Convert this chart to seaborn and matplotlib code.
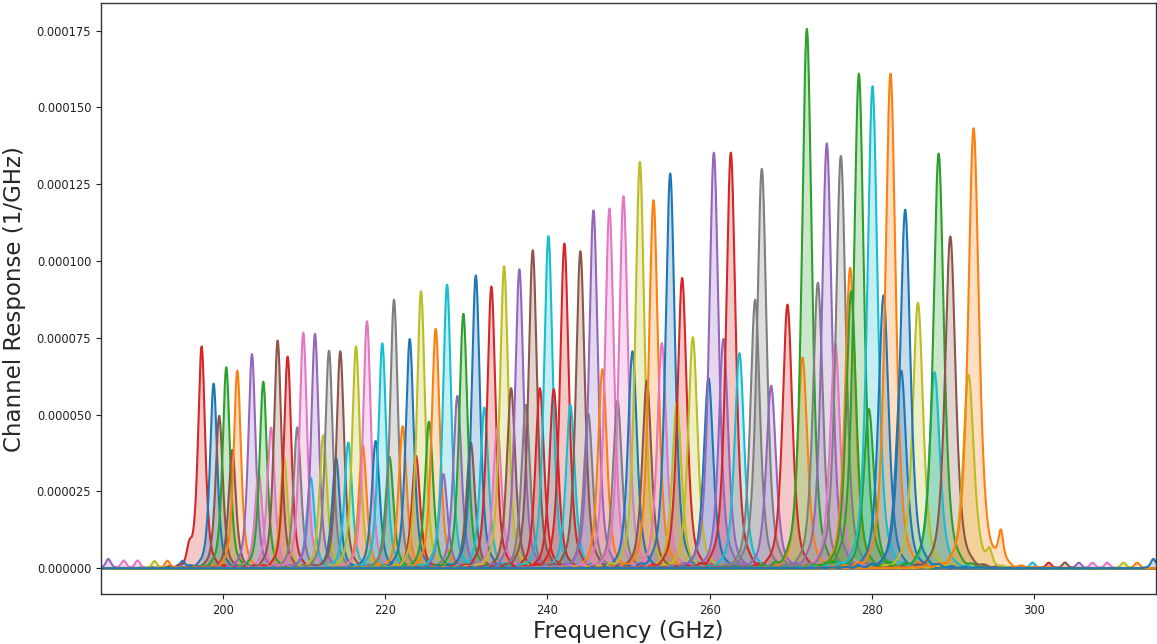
import numpy as np
import pandas as pd
import matplotlib
matplotlib.use("Agg")
import matplotlib.pyplot as plt
from matplotlib.ticker import FormatStrFormatter
import seaborn as sns

# Filter-bank channels, listed by centre frequency
centre_ghz = [
    197.40, 198.88, 199.57, 200.44, 201.18, 201.80, 203.60, 204.43, 205.00, 205.95,
    206.77, 207.55, 208.00, 209.19, 209.93, 210.84, 211.37, 212.40, 213.10, 213.96,
    214.49, 215.48, 216.43, 217.25, 217.78, 218.85, 219.67, 220.55, 221.11, 222.18,
    223.05, 223.82, 224.44, 225.43, 226.25, 227.19, 227.65, 228.92, 229.66, 230.57,
    231.19, 232.25, 233.11, 233.85, 234.68, 235.54, 236.56, 237.35, 238.21, 239.08,
    240.14, 240.80, 242.11, 242.85, 244.08, 245.05, 245.69, 246.80, 247.66, 248.65,
    249.39, 250.50, 251.41, 252.27, 253.09, 254.12, 255.15, 255.97, 256.62, 257.94,
    259.87, 260.53, 261.71, 262.62, 263.68, 265.62, 266.44, 267.59, 269.60, 271.45,
    271.99, 273.35, 274.45, 275.48, 276.18, 277.33, 277.46, 278.40, 279.63, 280.08,
    281.44, 282.30, 283.62, 284.11, 285.68, 287.73, 288.23, 289.67, 291.92, 292.54,
]

# Peak response of each channel, in units of 1e-5 / GHz
peak_e5 = [
    7.21, 6.01, 4.96, 6.54, 3.85, 6.43, 6.97, 3.11, 6.07, 4.58,
    7.41, 3.60, 6.89, 4.58, 7.67, 2.95, 7.63, 4.33, 7.08, 3.60,
    7.06, 4.09, 7.22, 4.01, 8.04, 4.14, 7.32, 3.62, 8.74, 4.62,
    7.46, 3.66, 9.02, 4.77, 7.79, 3.06, 9.23, 5.61, 8.28, 4.09,
    9.53, 5.23, 9.17, 4.58, 9.83, 5.86, 9.73, 5.32, 10.35, 5.86,
    10.81, 5.83, 10.57, 5.31, 10.32, 5.02, 11.65, 6.48, 11.71, 5.45,
    12.11, 7.06, 13.23, 6.10, 11.98, 7.33, 12.85, 5.40, 9.45, 7.52,
    6.19, 13.53, 7.46, 13.53, 7.00, 8.74, 13.00, 5.94, 8.58, 6.86,
    17.56, 9.29, 13.83, 7.33, 13.42, 9.78, 9.02, 16.10, 5.18, 15.69,
    8.88, 16.10, 6.43, 11.67, 8.64, 6.38, 13.50, 10.80, 6.30, 14.32,
]

# Position of each channel in the plotting order's colour cycle (tab10 slot)
cycle_slot = [
    3, 0, 5, 2, 5, 1, 4, 6, 2, 6,
    5, 8, 3, 7, 6, 9, 4, 8, 7, 0,
    5, 9, 8, 1, 6, 0, 9, 2, 7, 1,
    0, 3, 8, 2, 1, 4, 9, 4, 2, 5,
    0, 9, 3, 6, 8, 5, 4, 7, 5, 3,
    9, 3, 3, 9, 5, 7, 4, 1, 6, 7,
    6, 0, 8, 5, 1, 6, 0, 8, 3, 8,
    0, 4, 4, 3, 9, 7, 7, 4, 3, 1,
    2, 7, 4, 6, 7, 1, 2, 2, 2, 9,
    0, 1, 0, 0, 8, 9, 2, 5, 8, 1,
]

# Spurious responses away from the main passband: owning channel, centre, height (1e-5 / GHz)
spur_channel = [0, 6, 7, 9, 11, 5, 1, 99, 98, 95, 78, 97, 82, 83, 65, 98, 91, 93]
spur_centre = [195.90, 185.90, 187.80, 189.50, 191.60, 193.20, 195.10, 295.90, 294.50,
               299.80, 301.80, 303.80, 305.50, 307.20, 309.00, 311.00, 312.70, 314.70]
spur_e5 = [0.54, 0.30, 0.25, 0.25, 0.23, 0.23, 0.20, 1.08, 0.45,
           0.18, 0.18, 0.18, 0.18, 0.18, 0.18, 0.18, 0.18, 0.30]

QUALITY = 190.0
freq = np.arange(185.0, 315.0001, 0.02)


def passband(f, f0, height, fwhm):
    # squared-Lorentzian filter profile with a little sidelobe ringing
    gamma = fwhm / 1.2872
    x = (f - f0) / gamma
    main = height / (1.0 + x ** 2) ** 2
    ring = 0.02 * height * np.sin(np.pi * (f - f0) / (1.1 * fwhm)) ** 2
    ring *= np.exp(-np.abs(f - f0) / 4.0) * (1.0 - np.exp(-(x / 2.5) ** 2))
    return main + ring


def bump(f, f0, height, fwhm):
    gamma = fwhm / 1.2872
    return height / (1.0 + ((f - f0) / gamma) ** 2) ** 2


curves = []
for i, (f0, h) in enumerate(zip(centre_ghz, peak_e5)):
    resp = passband(freq, f0, h * 1e-5, f0 / QUALITY)
    for ch, sc, sh in zip(spur_channel, spur_centre, spur_e5):
        if ch == i:
            resp = resp + bump(freq, sc, sh * 1e-5, 0.75)
    curves.append(resp)

frame = pd.concat(
    [pd.DataFrame({"freq": freq, "resp": r, "channel": f"ch{i:03d}"})
     for i, r in enumerate(curves)],
    ignore_index=True,
)

tab10 = sns.color_palette("tab10", 10)
colour_of = {f"ch{i:03d}": tab10[s] for i, s in enumerate(cycle_slot)}
# channels drawn in frequency order, with one blue trace drawn last along the zero line
labels = [k for k in colour_of if k != "ch093"] + ["ch093"]

sns.set_style("ticks")
plt.rcParams["font.family"] = ["DejaVu Sans"]

fig = plt.figure(figsize=(11.57, 6.44), dpi=100)
ax = fig.add_axes([0.0873, 0.0772, 0.9117, 0.9181])

sns.lineplot(data=frame, x="freq", y="resp", hue="channel", hue_order=labels,
             palette=colour_of, estimator=None, legend=False, linewidth=1.5, ax=ax)
for i, r in enumerate(curves):
    ax.fill_between(freq, r, color=tab10[cycle_slot[i]], alpha=0.25, linewidth=0)

ax.set_xlim(185.0, 315.0)
ax.set_ylim(-8.5e-6, 1.84e-4)
ax.set_xticks([200, 220, 240, 260, 280, 300])
ax.set_yticks(np.arange(0, 1.751e-4, 2.5e-5))
ax.yaxis.set_major_formatter(FormatStrFormatter("%.6f"))
ax.tick_params(labelsize=8.3, length=3.5, width=0.8, colors="#222222")
for s in ax.spines.values():
    s.set_color("#333333")
    s.set_linewidth(1.0)

ax.set_xlabel("Frequency (GHz)", fontsize=16.5, labelpad=2)
ax.set_ylabel("Channel Response (1/GHz)", fontsize=16.5, labelpad=8)

fig.savefig("out.png", dpi=100)
